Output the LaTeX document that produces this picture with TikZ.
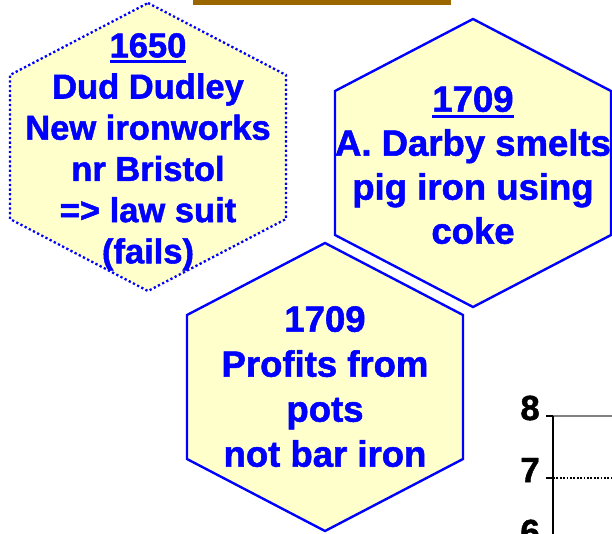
\documentclass[tikz,border=0pt]{standalone}
\usepackage{fontspec}
\setmainfont{Liberation Sans}
\newfontfamily\hexfont{Liberation Sans}[BoldFont=* Bold, BoldFeatures={FakeBold=1.5}]
\newfontfamily\axisfont{Liberation Sans}[BoldFont=* Bold, BoldFeatures={FakeBold=1.2}]
\definecolor{hexfill}{HTML}{FFFFCC}
\definecolor{hexblue}{HTML}{0000FF}
\definecolor{barbrown}{HTML}{996600}
\definecolor{gridgray}{HTML}{808080}
% underlined year: a 3pt rule just below the baseline
\newcommand{\yearline}[1]{\setbox0\hbox{#1}\rlap{\rule[-6pt]{\wd0}{2.8pt}}\box0}
% pointy-top hexagon around a centre
\newcommand{\hexat}[3]{%
  \path[#1] (#2+0,#3-144) -- (#2+138,#3-72) -- (#2+138,#3+72) -- (#2+0,#3+144)
    -- (#2-138,#3+72) -- (#2-138,#3-72) -- cycle;}
\tikzset{
  hexsolid/.style={fill=hexfill, draw=hexblue, line width=2.4pt, line join=miter},
  hexdotted/.style={fill=hexfill, draw=hexblue, line width=2.3pt,
    dash pattern=on 2.3pt off 2.4pt},
  hextext/.style={text=hexblue, align=center, inner sep=0pt, anchor=north},
  axislabel/.style={font=\axisfont\bfseries\fontsize{35}{40}\selectfont, anchor=east, inner sep=0pt}
}
\begin{document}
\begin{tikzpicture}[x=1pt, y=-1pt]
  \useasboundingbox (0,0) rectangle (612,533);
  % title bar
  \fill[barbrown] (193,-1) rectangle (451,5);

  % hexagon outlines
  \hexat{hexdotted}{148}{147}
  \hexat{hexsolid}{473}{163}
  \hexat{hexsolid}{325}{387}

  % hexagon texts
  \node[hextext, font=\hexfont\bfseries\fontsize{34.5}{41.2}\selectfont] (dudley) at (148,33)
    {\yearline{1650}\\Dud Dudley\\New ironworks\\nr Bristol\\=> law suit\\(fails)};
  \node[hextext, font=\hexfont\bfseries\fontsize{36.5}{44}\selectfont] (darby) at (473,86)
    {\yearline{1709}\\A. Darby smelts\\pig iron using\\coke};
  \node[hextext, font=\hexfont\bfseries\fontsize{36.5}{45}\selectfont] (profits) at (325,306)
    {1709\\Profits from\\pots\\not bar iron};

  % chart corner: axis, ticks and grid lines
  \coordinate (ytop) at (553,416);
  \coordinate (ybot) at (553,540);
  \coordinate (t8) at (546,416);
  \coordinate (t7) at (546,478);
  \coordinate (a7) at (553,478);
  \coordinate (g8) at (613,416);
  \coordinate (g7) at (613,478);
  \draw[gridgray, line width=2.2pt] (ytop) -- (g8);
  \draw[black, line width=1.8pt, dash pattern=on 1.8pt off 1.6pt] (a7) -- (g7);
  \draw[black, line width=1.8pt] (ytop) -- (ybot);
  \draw[black, line width=1.8pt] (t8) -- (ytop);
  \draw[black, line width=1.8pt] (t7) -- (a7);
  \node[axislabel] (l8) at (540,408) {8};
  \node[axislabel] (l7) at (540,470) {7};
  \node[axislabel] (l6) at (540,532) {6};
\end{tikzpicture}
\end{document}
